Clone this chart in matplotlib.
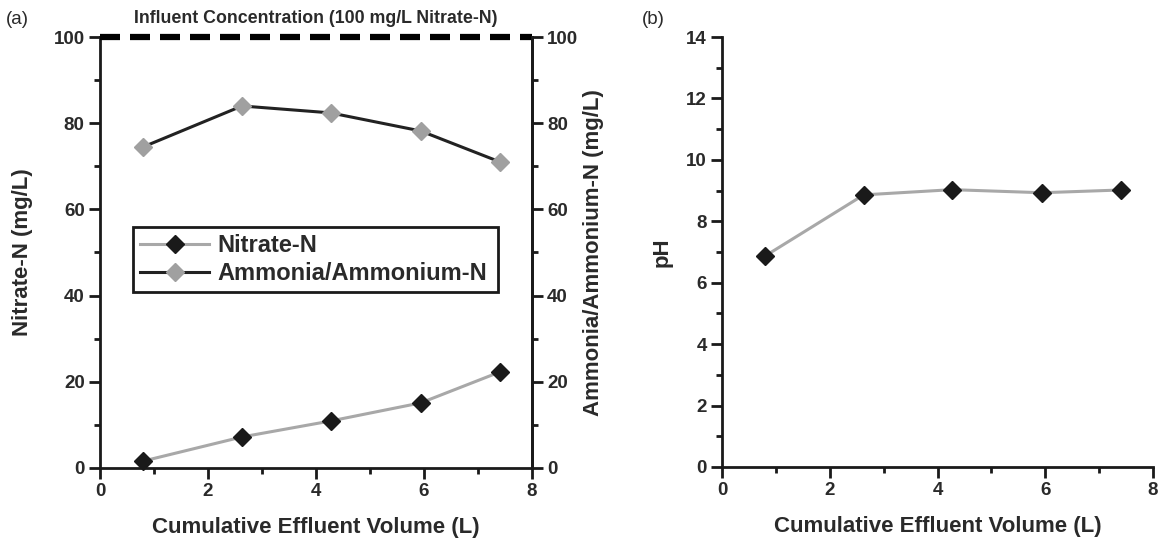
import matplotlib
matplotlib.use("Agg")
import matplotlib.pyplot as plt
from matplotlib.ticker import MultipleLocator

plt.rcParams['font.family'] = ['Liberation Sans', 'DejaVu Sans']

volume = [0.80, 2.63, 4.27, 5.94, 7.41]
nitrate = [1.6, 7.2, 10.9, 15.1, 22.3]
ammonia = [74.5, 84.0, 82.4, 78.2, 71.0]
ph = [6.87, 8.86, 9.03, 8.93, 9.02]
influent = 100

txt = '#2a2a2a'
fig = plt.figure(figsize=(11.61, 5.46), dpi=100)

def style_axis(ax, sides):
    for s in ['top', 'right', 'left', 'bottom']:
        ax.spines[s].set_visible(s in sides)
        ax.spines[s].set_linewidth(2.0)
        ax.spines[s].set_color('#1a1a1a')
    ax.tick_params(which='major', direction='out', length=8, width=2.0, colors='#1a1a1a',
                   labelsize=13.5, labelcolor=txt, pad=3)
    ax.tick_params(which='minor', direction='out', length=4.5, width=2.0, colors='#1a1a1a')
    for lab in ax.get_xticklabels() + ax.get_yticklabels():
        lab.set_fontweight('bold')

# Panel (a)
ax1 = fig.add_axes([0.0861, 0.1429, 0.3721, 0.7893])
ax1.set_xlim(0, 8)
ax1.set_ylim(0, 100)
ax1.xaxis.set_major_locator(MultipleLocator(2))
ax1.xaxis.set_minor_locator(MultipleLocator(1))
ax1.yaxis.set_major_locator(MultipleLocator(20))
ax1.yaxis.set_minor_locator(MultipleLocator(10))
ln1, = ax1.plot(volume, nitrate, color='#a8a8a8', lw=2.2, marker='D', ms=9,
                mfc='#1a1a1a', mec='#1a1a1a', zorder=3, clip_on=False)
ax1.plot([0, 8], [influent, influent], color='black', lw=4.5, ls=(0, (3.2, 1.6)),
         clip_on=False, zorder=4)
style_axis(ax1, ['left', 'bottom', 'right'])
ax1.set_xlabel('Cumulative Effluent Volume (L)', fontsize=16, fontweight='bold', color=txt, labelpad=12)
ax1.set_ylabel('Nitrate-N (mg/L)', fontsize=16, fontweight='bold', color=txt, labelpad=15)

ax2 = ax1.twinx()
ax2.set_ylim(0, 100)
ax2.yaxis.set_major_locator(MultipleLocator(20))
ax2.yaxis.set_minor_locator(MultipleLocator(10))
ln2, = ax2.plot(volume, ammonia, color='#222222', lw=2.2, marker='D', ms=9,
                mfc='#a0a0a0', mec='#a0a0a0', zorder=3)
style_axis(ax2, ['right'])
ax2.set_ylabel('Ammonia/Ammonium-N (mg/L)', fontsize=16, fontweight='bold', color=txt, labelpad=3)

leg = ax1.legend([ln1, ln2], ['Nitrate-N', 'Ammonia/Ammonium-N'],
                 loc='lower left', bbox_to_anchor=(0.077, 0.408, 0.845, 0.163),
                 mode='expand', borderaxespad=0, fancybox=False, edgecolor='#1a1a1a',
                 framealpha=1, prop={'weight': 'bold', 'size': 17}, handlelength=2.9,
                 borderpad=0.3, labelspacing=0.2, handletextpad=0.38)
leg.get_frame().set_linewidth(2.0)
for t in leg.get_texts():
    t.set_color(txt)
leg.set_zorder(10)

fig.text(0.272, 0.967, 'Influent Concentration (100 mg/L Nitrate-N)', ha='center', va='center',
         fontsize=12.8, fontweight='bold', color=txt)
fig.text(0.005, 0.965, '(a)', ha='left', va='center', fontsize=13.5, color=txt)

# Panel (b)
ax3 = fig.add_axes([0.6219, 0.1447, 0.3712, 0.7875])
ax3.set_xlim(0, 8)
ax3.set_ylim(0, 14)
ax3.xaxis.set_major_locator(MultipleLocator(2))
ax3.xaxis.set_minor_locator(MultipleLocator(1))
ax3.yaxis.set_major_locator(MultipleLocator(2))
ax3.yaxis.set_minor_locator(MultipleLocator(1))
ax3.plot(volume, ph, color='#a8a8a8', lw=2.2, marker='D', ms=9,
         mfc='#1a1a1a', mec='#1a1a1a', zorder=3)
style_axis(ax3, ['left', 'bottom'])
ax3.set_xlabel('Cumulative Effluent Volume (L)', fontsize=16, fontweight='bold', color=txt, labelpad=12)
ax3.set_ylabel('pH', fontsize=16, fontweight='bold', color=txt, labelpad=10)
fig.text(0.553, 0.965, '(b)', ha='left', va='center', fontsize=13.5, color=txt)

fig.savefig('out.png', dpi=100)
